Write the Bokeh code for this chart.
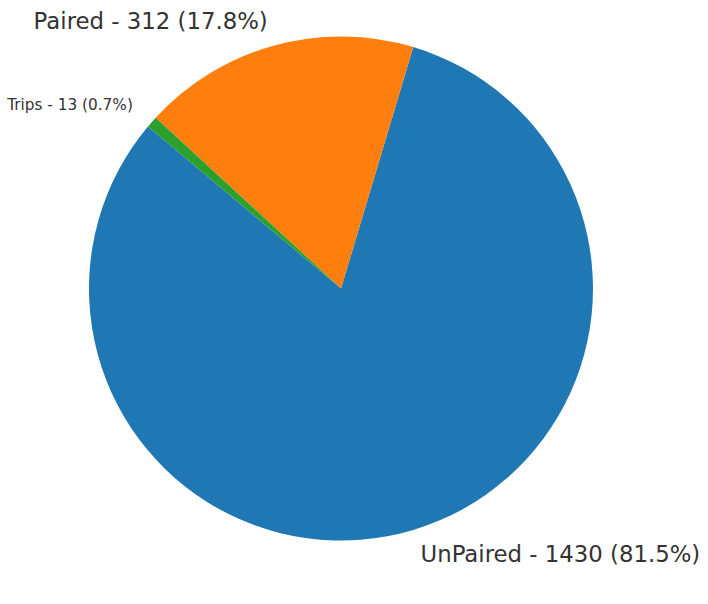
import math
from bokeh.plotting import figure
from bokeh.models import Range1d, ColumnDataSource
from bokeh.core.properties import value
from bokeh.embed import file_html
from bokeh.resources import INLINE

# Data
categories = ["UnPaired", "Paired", "Trips"]
counts = [1430, 312, 13]
colors = ["#1f77b4", "#ff7f0e", "#2ca02c"]
label_sizes = ["22.8px", "22.8px", "15.3px"]

START_DEG = 140.0
W, H = 700, 596
CX, CY = 340.5, H - 288.0
R = 252.0

total = sum(counts)
starts, ends, lx, ly, texts, aligns = [], [], [], [], [], []
acc = 0.0
for c, n in zip(categories, counts):
    a0 = math.radians(START_DEG) + 2 * math.pi * acc / total
    acc += n
    a1 = math.radians(START_DEG) + 2 * math.pi * acc / total
    starts.append(a0)
    ends.append(a1)
    mid = (a0 + a1) / 2
    x = CX + 1.1 * R * math.cos(mid)
    y = CY + 1.1 * R * math.sin(mid)
    lx.append(x)
    ly.append(y)
    texts.append(f"{c} - {n} ({100 * n / total:.1f}%)")
    aligns.append("left" if math.cos(mid) > 0 else "right")

src = ColumnDataSource(dict(start=starts, end=ends, color=colors,
                            x=[CX] * len(counts), y=[CY] * len(counts)))

p = figure(width=W, height=H, output_backend="svg", toolbar_location=None,
           x_range=Range1d(0, W), y_range=Range1d(0, H), min_border=0)
p.axis.visible = False
p.grid.visible = False
p.outline_line_color = None
p.background_fill_color = "white"
p.border_fill_color = "white"

p.wedge(x="x", y="y", radius=R, start_angle="start", end_angle="end",
        fill_color="color", line_color=None, source=src)

for i in range(len(counts)):
    p.text(x=[lx[i]], y=[ly[i]], text=[texts[i]], text_align=aligns[i],
           text_baseline="middle", text_font_size=label_sizes[i],
           text_color="#333333", text_font=value("DejaVu Sans"))

open("out.html", "w").write(file_html(p, INLINE))
